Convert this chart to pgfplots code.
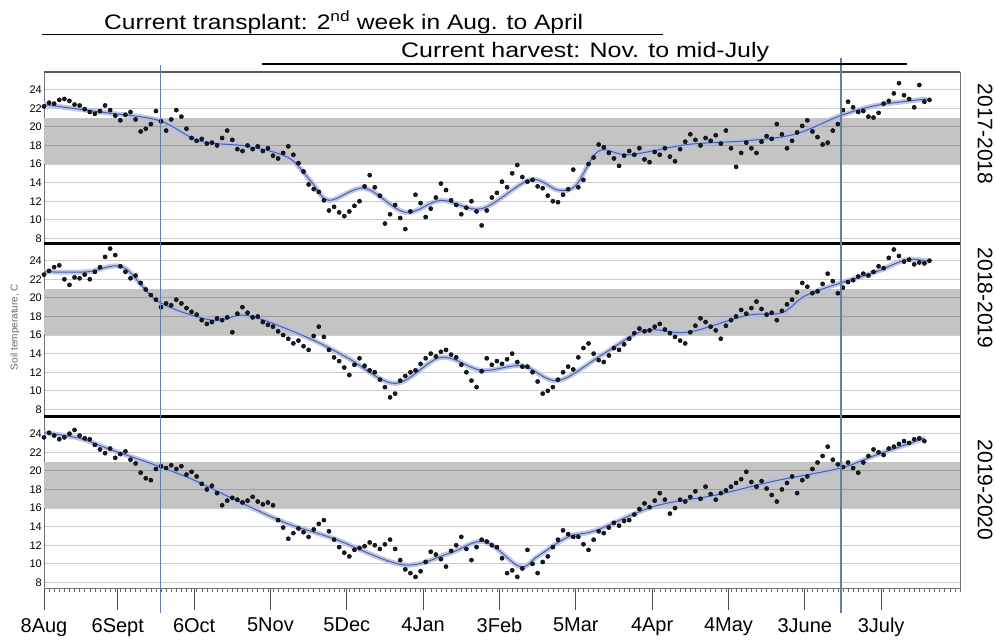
\documentclass[border=0pt]{standalone}
\usepackage{fontspec}
\setmainfont{Liberation Sans}
\usepackage{graphicx}
\usepackage{pgfplots}
\usepackage{pgfplotstable}
\pgfplotsset{compat=1.18}

\definecolor{bandgray}{RGB}{196,196,196}
\definecolor{vline}{RGB}{100,125,172}
\definecolor{fitline}{RGB}{75,95,165}
\definecolor{halo}{RGB}{178,190,228}
\definecolor{dotc}{RGB}{25,25,35}

% day (0 = 8 Aug)  soil temperature (C)
\pgfplotstableread{
x y
0 22.2
2 22.6
4 22.5
6 22.9
8 23.0
10 22.8
12 22.4
14 22.3
16 21.9
18 21.6
20 21.4
22 21.7
24 22.3
26 21.8
28 21.2
30 20.7
32 21.3
34 21.6
36 20.8
38 19.5
40 19.8
42 20.3
44 21.7
46 20.6
48 19.6
50 20.8
52 21.8
54 21.1
56 19.8
58 18.8
60 18.5
62 18.7
64 18.2
66 18.3
68 18.0
70 18.8
72 19.6
74 18.6
76 17.6
78 17.4
80 18.0
82 17.6
84 17.9
86 17.4
88 17.7
90 16.9
92 16.6
94 17.2
96 17.9
98 17.0
100 16.1
102 15.2
104 13.8
106 13.3
108 13.0
110 12.1
112 11.0
114 11.4
116 10.8
118 10.4
120 10.9
122 11.5
124 12.0
126 13.6
128 14.8
130 13.5
132 12.6
134 9.6
136 10.6
138 11.6
140 10.2
142 9.0
144 10.9
146 12.7
148 11.8
150 10.3
152 11.2
154 12.4
156 13.9
158 13.2
160 12.1
162 11.6
164 10.6
166 11.3
168 12.0
170 10.9
172 9.4
174 11.0
176 12.4
178 12.9
180 14.1
182 13.5
184 15.0
186 15.9
188 14.6
190 14.1
192 14.3
194 13.6
196 13.4
198 12.6
200 12.0
202 11.9
204 12.7
206 13.3
208 15.4
210 13.5
212 14.3
214 16.0
216 16.7
218 18.1
220 17.8
222 17.2
224 16.6
226 15.8
228 16.9
230 17.4
232 17.0
234 17.7
236 16.5
238 16.2
240 17.3
242 17.0
244 17.7
246 16.8
248 16.3
250 17.6
252 18.4
254 19.2
256 18.6
258 18.0
260 18.8
262 18.5
264 19.1
266 18.2
268 19.6
270 17.7
272 15.7
274 17.2
276 18.3
278 17.7
280 17.2
282 18.4
284 19.0
286 18.7
288 20.3
290 19.2
292 17.7
294 18.5
296 19.4
298 20.1
300 20.7
302 19.5
304 18.9
306 18.1
308 18.3
310 19.6
312 20.3
314 21.8
316 22.7
318 22.1
320 21.6
322 21.7
324 21.1
326 21.0
328 21.5
330 22.5
332 22.8
334 23.6
336 24.7
338 23.4
340 23.0
342 22.1
344 24.5
346 22.7
348 22.9
}\dataA

\pgfplotstableread{
x y
0 22.5
2 22.9
4 23.3
6 23.5
8 22.0
10 21.4
12 22.2
14 22.1
16 22.5
18 22.0
20 22.8
22 23.3
24 24.4
26 25.3
28 24.6
30 23.4
32 22.8
34 22.1
36 22.4
38 21.6
40 20.9
42 20.3
44 19.8
46 19.0
48 19.4
50 19.2
52 19.8
54 19.4
56 18.9
58 18.5
60 18.2
62 17.6
64 17.2
66 17.4
68 17.8
70 17.6
72 17.9
74 16.3
76 18.3
78 19.0
80 18.4
82 17.9
84 18.0
86 17.4
88 17.1
90 16.9
92 16.4
94 16.0
96 15.6
98 15.1
100 15.4
102 14.8
104 14.4
106 15.9
108 16.9
110 15.8
112 14.4
114 13.6
116 13.2
118 12.5
120 11.7
122 12.8
124 13.5
126 12.7
128 12.2
130 12.0
132 11.2
134 10.4
136 9.3
138 9.7
140 11.1
142 11.6
144 12.0
146 12.2
148 12.9
150 13.5
152 14.0
154 13.7
156 14.2
158 14.4
160 13.9
162 13.6
164 12.8
166 12.0
168 11.1
170 10.4
172 12.1
174 13.5
176 12.8
178 13.2
180 12.9
182 13.4
184 14.0
186 13.1
188 12.6
190 12.6
192 12.0
194 11.0
196 9.7
198 10.0
200 10.4
202 11.2
204 12.0
206 12.6
208 12.3
210 13.6
212 14.6
214 15.1
216 14.0
218 13.3
220 13.1
222 13.8
224 14.6
226 14.4
228 15.0
230 15.6
232 16.2
234 16.7
236 16.4
238 16.5
240 16.9
242 17.2
244 16.6
246 16.2
248 15.8
250 15.4
252 15.1
254 16.3
256 17.0
258 17.8
260 17.4
262 16.9
264 16.5
266 15.6
268 17.0
270 17.6
272 18.0
274 18.7
276 18.3
278 18.9
280 19.6
282 18.8
284 18.2
286 18.4
288 17.6
290 18.6
292 19.3
294 19.8
296 20.6
298 21.6
300 21.2
302 20.5
304 20.7
306 21.5
308 22.6
310 21.8
312 20.5
314 21.1
316 21.7
318 21.9
320 22.3
322 22.6
324 22.4
326 22.8
328 23.4
330 23.2
332 24.3
334 25.2
336 24.5
338 23.9
340 24.1
342 23.6
344 23.8
346 23.7
348 24.0
}\dataB

\pgfplotstableread{
x y
0 23.6
2 24.1
4 23.8
6 23.4
8 23.6
10 24.0
12 24.4
14 23.8
16 23.5
18 23.4
20 22.8
22 22.3
24 21.9
26 22.4
28 21.4
30 21.8
32 22.1
34 21.2
36 20.8
38 19.8
40 19.2
42 19.0
44 20.2
46 20.5
48 20.3
50 20.6
52 20.2
54 20.5
56 19.6
58 19.9
60 19.4
62 18.6
64 18.0
66 18.4
68 17.6
70 16.3
72 16.8
74 17.1
76 16.9
78 16.6
80 16.8
82 17.2
84 16.7
86 16.4
88 16.6
90 16.3
92 14.7
94 13.9
96 12.7
98 13.3
100 13.8
102 13.4
104 12.9
106 13.7
108 14.3
110 14.7
112 13.5
114 12.6
116 11.8
118 11.2
120 10.8
122 11.5
124 11.7
126 11.9
128 12.3
130 12.0
132 11.6
134 12.1
136 12.6
138 11.6
140 10.4
142 9.4
144 9.0
146 8.6
148 9.2
150 10.2
152 11.3
154 11.0
156 10.5
158 9.7
160 11.4
162 12.0
164 12.9
166 11.6
168 10.4
170 11.8
172 12.6
174 12.4
176 12.0
178 11.8
180 10.6
182 9.0
184 9.3
186 8.6
188 9.5
190 11.5
192 10.0
194 9.0
196 10.2
198 10.8
200 11.8
202 12.6
204 13.6
206 13.2
208 12.9
210 12.9
212 12.1
214 11.5
216 12.6
218 13.5
220 13.3
222 13.9
224 14.4
226 14.1
228 14.6
230 14.7
232 15.3
234 15.9
236 16.5
238 16.1
240 16.8
242 17.6
244 16.9
246 15.4
248 16.0
250 16.9
252 16.7
254 17.2
256 17.8
258 17.0
260 18.3
262 17.5
264 16.9
266 17.6
268 17.9
270 18.3
272 18.7
274 19.1
276 19.9
278 18.8
280 18.3
282 18.9
284 18.1
286 17.4
288 16.7
290 18.0
292 18.7
294 19.4
296 17.6
298 19.0
300 19.4
302 20.2
304 20.9
306 21.6
308 22.6
310 21.2
312 20.7
314 20.4
316 20.9
318 20.3
320 19.8
322 20.9
324 21.6
326 22.3
328 22.0
330 21.7
332 22.4
334 22.6
336 22.9
338 23.2
340 23.0
342 23.4
344 23.5
346 23.2
}\dataC

\pgfplotsset{
  panel/.style={
    scale only axis, width=916pt, height=172pt,
    xmin=0, xmax=360, ymin=7.4, ymax=25.9,
    ytick={8,10,...,24}, ytick pos=left,
    ytick style={draw=none},
    /pgf/number format/assume math mode=true,
    yticklabel style={font=\fontsize{11}{11}\selectfont, inner sep=2pt},
    xtick=\empty,
    axis line style={draw=black!55, line width=0.8pt},
  },
  dots/.style={only marks, mark=*, mark size=2.1pt, mark options={draw=none, fill=dotc}},
  halo/.style={smooth, tension=0.55, color=halo, line width=5pt, opacity=0.85},
  fit/.style={smooth, tension=0.55, color=fitline, line width=1pt},
}
\newcommand{\bandgrid}{%
  \fill[bandgray] (axis cs:0,16) rectangle (axis cs:360,21);
  \pgfplotsinvokeforeach{8,10,12,14,16,18,20,22,24}{%
    \draw[black, opacity=0.2, line width=0.8pt] (axis cs:0,##1) -- (axis cs:360,##1);}%
}

\begin{document}
\begin{tikzpicture}
\useasboundingbox (0pt,0pt) rectangle (995pt,641pt);

% ---- panel 1: 2017-2018
\begin{axis}[panel, at={(44pt,569pt)}, anchor=north west]
\bandgrid
\addplot[halo] coordinates {(0,22.4) (22,21.6) (45,20.7) (61,18.5) (80,17.9) (96,16.7) (105,14.1) (112,12.1) (126,13.4) (142,10.8) (156,12.1) (172,11.2) (191,14.3) (202,13.2) (209,13.7) (218,17.4) (230,17.0) (253,18.1) (276,18.5) (295,19.2) (313,21.2) (327,22.3) (347,23.0)};
\addplot[fit] coordinates {(0,22.4) (22,21.6) (45,20.7) (61,18.5) (80,17.9) (96,16.7) (105,14.1) (112,12.1) (126,13.4) (142,10.8) (156,12.1) (172,11.2) (191,14.3) (202,13.2) (209,13.7) (218,17.4) (230,17.0) (253,18.1) (276,18.5) (295,19.2) (313,21.2) (327,22.3) (347,23.0)};
\addplot[dots] table[x=x, y=y] {\dataA};
\end{axis}

% ---- panel 2: 2018-2019
\begin{axis}[panel, at={(44pt,398pt)}, anchor=north west]
\bandgrid
\addplot[halo] coordinates {(0,22.8) (17,22.8) (31,23.3) (45,19.6) (66,17.6) (80,18.1) (103,15.8) (119,13.6) (138,10.8) (156,13.6) (172,12.2) (188,12.7) (202,11.1) (220,14.0) (236,16.5) (253,16.3) (276,18.1) (290,18.4) (299,20.2) (313,21.6) (327,22.8) (339,24.1) (348,23.9)};
\addplot[fit] coordinates {(0,22.8) (17,22.8) (31,23.3) (45,19.6) (66,17.6) (80,18.1) (103,15.8) (119,13.6) (138,10.8) (156,13.6) (172,12.2) (188,12.7) (202,11.1) (220,14.0) (236,16.5) (253,16.3) (276,18.1) (290,18.4) (299,20.2) (313,21.6) (327,22.8) (339,24.1) (348,23.9)};
\addplot[dots] table[x=x, y=y] {\dataB};
\end{axis}

% ---- panel 3: 2019-2020
\begin{axis}[panel, at={(44pt,225pt)}, anchor=north west,
  xtick={0,29,59,89,119,149,179,209,239,269,299,329},
  xticklabels={8Aug,6Sept,6Oct,5Nov,5Dec,4Jan,3Feb,5Mar,4Apr,4May,3June,3July},
  xtick pos=bottom, xtick align=outside,
  minor xtick={0,2,...,360},
  major tick length=22pt, minor tick length=4pt,
  xtick style={draw=black!70, line width=0.8pt},
  minor x tick style={draw=black!60, line width=0.5pt},
  xticklabel style={font=\fontsize{20}{20}\selectfont, inner sep=2pt, yshift=-6pt}]
\bandgrid
\addplot[halo] coordinates {(0,24.1) (14,23.5) (26,22.3) (45,20.5) (59,19.0) (75,16.9) (95,14.4) (114,12.7) (141,9.9) (159,11.1) (173,12.4) (187,9.7) (194,10.8) (206,12.9) (217,13.6) (240,16.2) (264,17.4) (287,18.9) (313,20.3) (327,21.7) (346,23.5)};
\addplot[fit] coordinates {(0,24.1) (14,23.5) (26,22.3) (45,20.5) (59,19.0) (75,16.9) (95,14.4) (114,12.7) (141,9.9) (159,11.1) (173,12.4) (187,9.7) (194,10.8) (206,12.9) (217,13.6) (240,16.2) (264,17.4) (287,18.9) (313,20.3) (327,21.7) (346,23.5)};
\addplot[dots] table[x=x, y=y] {\dataC};
\end{axis}

% panel separators
\draw[black!65, line width=2.8pt] (44pt,569pt) -- (960pt,569pt);
\draw[black, line width=3pt] (44pt,398pt) -- (960pt,398pt);
\draw[black, line width=3pt] (44pt,225pt) -- (960pt,225pt);

% vertical reference lines
\draw[vline, line width=1.3pt] (160.3pt,576pt) -- (160.3pt,28pt);
\draw[vline, line width=1.3pt] (841pt,583pt) -- (841pt,28pt);

% top annotations
\draw[black, line width=1.2pt] (42pt,606.5pt) -- (663pt,606.5pt);
\draw[black, line width=1.2pt] (262pt,577pt) -- (907pt,577pt);
\node[anchor=base west, inner sep=0pt] at (104pt,611.5pt)
  {\scalebox{1.17}[1]{\fontsize{21}{21}\selectfont Current transplant: 2\textsuperscript{nd} week in Aug. to April}};
\node[anchor=base west, inner sep=0pt] at (401pt,583.7pt)
  {\scalebox{1.19}[1]{\fontsize{21}{21}\selectfont Current harvest: Nov. to mid-July}};

% side labels
\node[rotate=-90, font=\fontsize{21}{21}\selectfont] at (985pt,507pt) {2017-2018};
\node[rotate=-90, font=\fontsize{21}{21}\selectfont] at (985pt,343pt) {2018-2019};
\node[rotate=-90, font=\fontsize{21}{21}\selectfont] at (985pt,151pt) {2019-2020};
\node[rotate=90, font=\fontsize{10}{10}\selectfont, text=black!60] at (15pt,314pt) {Soil temperature, C};
\end{tikzpicture}
\end{document}
